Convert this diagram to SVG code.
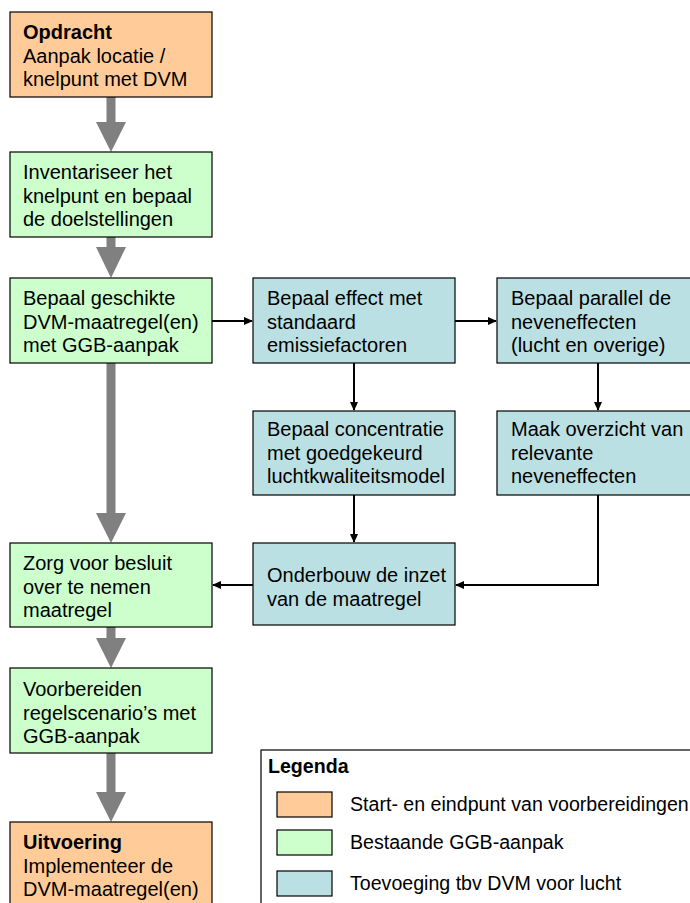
<svg xmlns="http://www.w3.org/2000/svg" width="690" height="903" viewBox="0 0 690 903">
<style>
.box{stroke:#000;stroke-width:1.2}
.o{fill:#FFCC99}.g{fill:#CCFFCC}.b{fill:#BBE0E3}
text{font-family:"Liberation Sans",Arial,sans-serif;font-size:20px;fill:#000}
.bold{font-weight:bold}
.lg{font-size:19.6px}
.conn{stroke:#000;stroke-width:2;fill:none}
.big{fill:#808080}
</style>
<defs>
<marker id="ah" markerWidth="10" markerHeight="10" refX="8" refY="4" orient="auto" markerUnits="userSpaceOnUse">
<path d="M0,0 L9,4 L0,8 Z" fill="#000"/>
</marker>
</defs>
<g id="connectors">
<path class="big" d="M106.5,97 H115.5 V122 H126 L111,152 L96,122 H106.5 Z"/>
<path class="big" d="M106.5,237 H115.5 V247 H126 L111,278 L96,247 H106.5 Z"/>
<path class="big" d="M106.5,363 H115.5 V513 H126 L111,543 L96,513 H106.5 Z"/>
<path class="big" d="M106.5,627 H115.5 V638 H126 L111,668 L96,638 H106.5 Z"/>
<path class="big" d="M106.5,753 H115.5 V792 H126 L111,822 L96,792 H106.5 Z"/>
<path class="conn" d="M212,321 H252" marker-end="url(#ah)"/>
<path class="conn" d="M455,321 H496" marker-end="url(#ah)"/>
<path class="conn" d="M354,363 V410" marker-end="url(#ah)"/>
<path class="conn" d="M598,363 V410" marker-end="url(#ah)"/>
<path class="conn" d="M354,495 V542" marker-end="url(#ah)"/>
<path class="conn" d="M598,495 V585 H456" marker-end="url(#ah)"/>
<path class="conn" d="M253,585 H213" marker-end="url(#ah)"/>
</g>
<g id="n1"><rect class="box o" x="10" y="12" width="202" height="85"/>
<text x="23" y="39"><tspan class="bold">Opdracht</tspan><tspan x="23" y="62.5">Aanpak locatie /</tspan><tspan x="23" y="86">knelpunt met DVM</tspan></text></g>
<g id="n2"><rect class="box g" x="10" y="152" width="202" height="85"/>
<text x="23" y="179">Inventariseer het<tspan x="23" y="202.5">knelpunt en bepaal</tspan><tspan x="23" y="226">de doelstellingen</tspan></text></g>
<g id="n3"><rect class="box g" x="10" y="278" width="202" height="85"/>
<text x="23" y="305">Bepaal geschikte<tspan x="23" y="328.5">DVM-maatregel(en)</tspan><tspan x="23" y="352">met GGB-aanpak</tspan></text></g>
<g id="b1"><rect class="box b" x="253" y="278" width="202" height="85"/>
<text x="267" y="305">Bepaal effect met<tspan x="267" y="328.5">standaard</tspan><tspan x="267" y="352">emissiefactoren</tspan></text></g>
<g id="b2"><rect class="box b" x="497" y="278" width="202" height="85"/>
<text x="511" y="305">Bepaal parallel de<tspan x="511" y="328.5">neveneffecten</tspan><tspan x="511" y="352">(lucht en overige)</tspan></text></g>
<g id="b3"><rect class="box b" x="253" y="411" width="202" height="84"/>
<text x="267" y="436">Bepaal concentratie<tspan x="267" y="459.5">met goedgekeurd</tspan><tspan x="267" y="483">luchtkwaliteitsmodel</tspan></text></g>
<g id="b4"><rect class="box b" x="497" y="411" width="202" height="84"/>
<text x="511" y="436">Maak overzicht van<tspan x="511" y="459.5">relevante</tspan><tspan x="511" y="483">neveneffecten</tspan></text></g>
<g id="b5"><rect class="box b" x="253" y="543" width="202" height="82"/>
<text x="267" y="582">Onderbouw de inzet<tspan x="267" y="605.5">van de maatregel</tspan></text></g>
<g id="n4"><rect class="box g" x="10" y="543" width="202" height="84"/>
<text x="23" y="570">Zorg voor besluit<tspan x="23" y="593.5">over te nemen</tspan><tspan x="23" y="617">maatregel</tspan></text></g>
<g id="n5"><rect class="box g" x="10" y="668" width="202" height="85"/>
<text x="23" y="696">Voorbereiden<tspan x="23" y="719.5">regelscenario’s met</tspan><tspan x="23" y="743">GGB-aanpak</tspan></text></g>
<g id="n6"><rect class="box o" x="10" y="822" width="202" height="100"/>
<text x="23" y="849"><tspan class="bold">Uitvoering</tspan><tspan x="23" y="872.5">Implementeer de</tspan><tspan x="23" y="896">DVM-maatregel(en)</tspan></text></g>
<g id="legend">
<rect x="261" y="750" width="450" height="170" fill="#fff" stroke="#000" stroke-width="1.2"/>
<text class="bold lg" x="268" y="773">Legenda</text>
<rect class="box o" x="277" y="792" width="55" height="25"/>
<text class="lg" x="350" y="811">Start- en eindpunt van voorbereidingen</text>
<rect class="box g" x="277" y="830" width="55" height="25"/>
<text class="lg" x="350" y="849">Bestaande GGB-aanpak</text>
<rect class="box b" x="277" y="871" width="55" height="25"/>
<text class="lg" x="350" y="890">Toevoeging tbv DVM voor lucht</text>
</g>
</svg>
